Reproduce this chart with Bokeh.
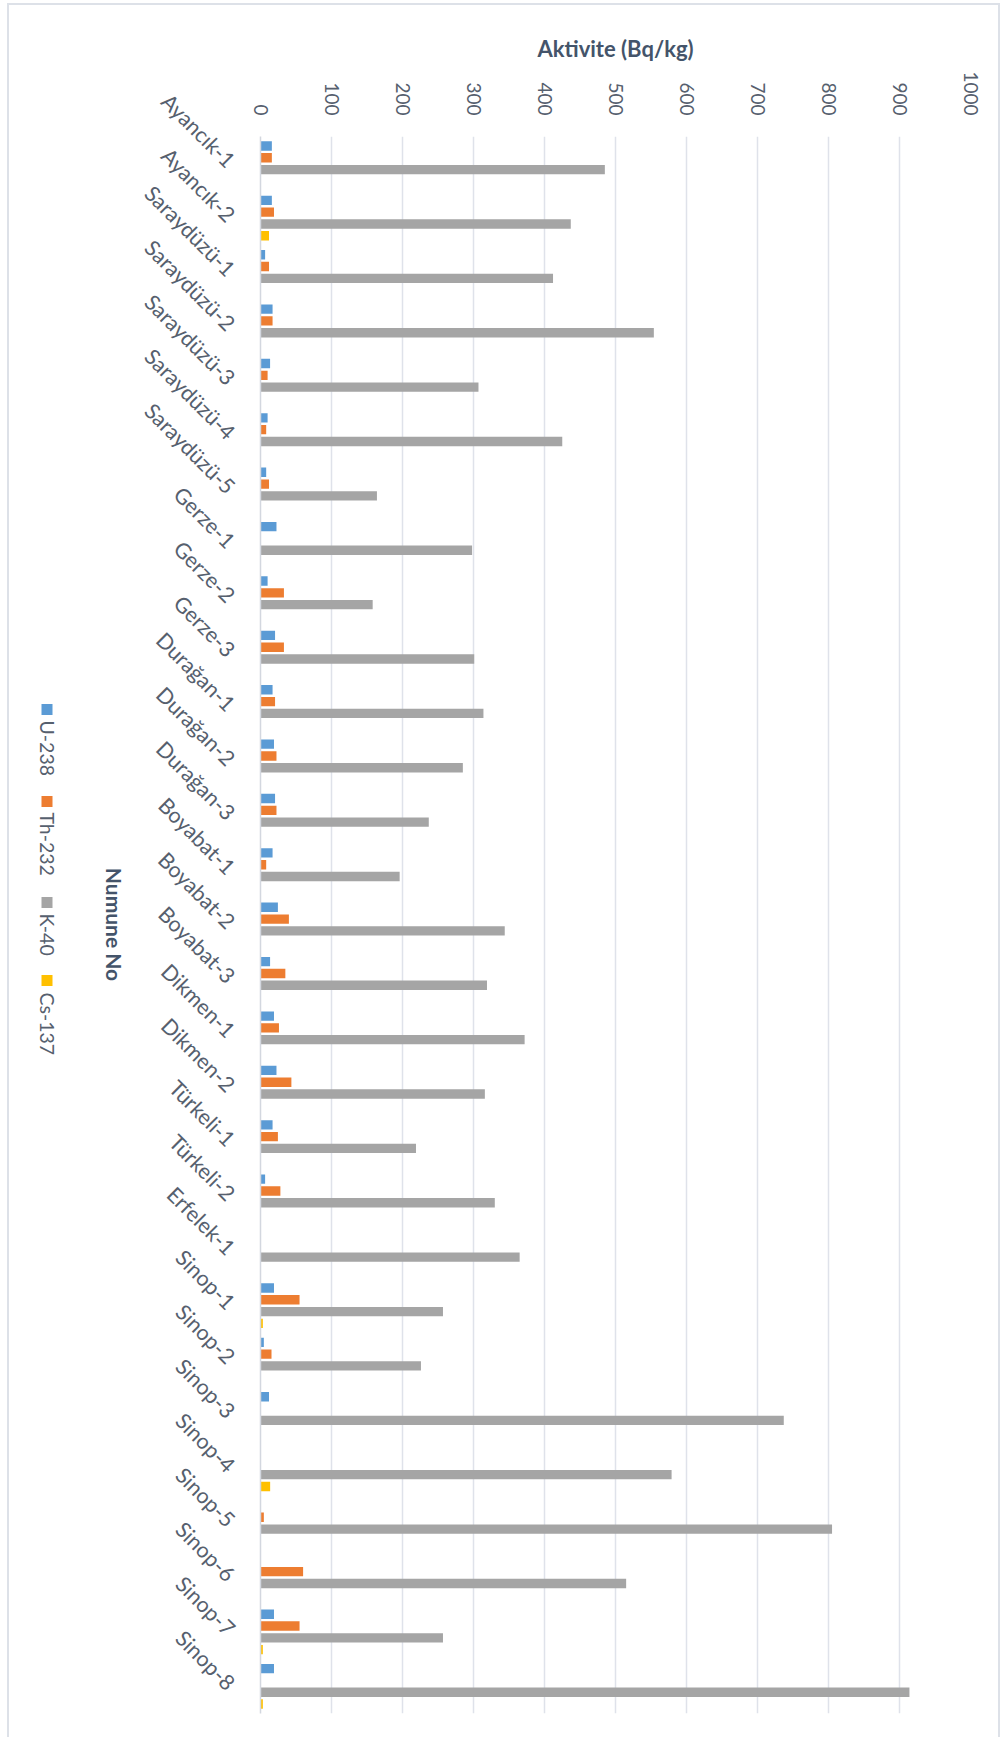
import math
from bokeh.plotting import figure
from bokeh.models import ColumnDataSource, FactorRange, Range1d, FixedTicker
from bokeh.transform import dodge
from bokeh.layouts import row
from bokeh.embed import file_html
from bokeh.resources import INLINE
from bokeh.core.properties import value

NaN = float("nan")

samples = ["Ayancık-1", "Ayancık-2", "Saraydüzü-1", "Saraydüzü-2", "Saraydüzü-3",
           "Saraydüzü-4", "Saraydüzü-5", "Gerze-1", "Gerze-2", "Gerze-3",
           "Durağan-1", "Durağan-2", "Durağan-3", "Boyabat-1", "Boyabat-2",
           "Boyabat-3", "Dikmen-1", "Dikmen-2", "Türkeli-1", "Türkeli-2",
           "Erfelek-1", "Sinop-1", "Sinop-2", "Sinop-3", "Sinop-4",
           "Sinop-5", "Sinop-6", "Sinop-7", "Sinop-8"]

u238 = [16, 16, 6.5, 17, 13.5, 10, 8, 22.5, 10, 20.5,
        17, 19, 20.5, 17, 24.5, 13.5, 19, 22.5, 17, 6.5,
        NaN, 19, 4.7, 12, NaN, NaN, NaN, 19, 19]
th232 = [16, 19, 12, 17, 10, 8, 12, NaN, 33, 33,
         20.5, 22.5, 22.5, 8, 40, 35, 26, 43.5, 24.5, 28,
         NaN, 55, 15.5, NaN, NaN, 4.7, 60, 55, NaN]
k40 = [485, 437, 412, 554, 307, 425, 164, 298, 158, 301,
       314, 285, 237, 196, 344, 319, 372, 316, 219, 330,
       365, 257, 226, 737, 579, 805, 515, 257, 914]
cs137 = [NaN, 12, NaN, NaN, NaN, NaN, NaN, NaN, NaN, NaN,
         NaN, NaN, NaN, NaN, NaN, NaN, NaN, NaN, NaN, NaN,
         NaN, 3.3, NaN, NaN, 13.6, NaN, NaN, 3.3, 3.3]

series_names = ["U-238", "Th-232", "K-40", "Cs-137"]
series_cols = ["u", "th", "k", "cs"]
series_colors = ["#5b9bd5", "#ed7d31", "#a5a5a5", "#ffc000"]
x_ticks = list(range(0, 1001, 100))

FONT = "Lato"
TXT = "#56606e"
TITLE = "#44546a"
BORDER = "2px solid #dde1e8"

# page geometry (layout starts at x=9, y=5 after margin + border)
H = 1732
FRAME_TOP, FRAME_BOTTOM = 136, 1713
W_LEFT = 118
W_MAIN = 871

src = ColumnDataSource(dict(sample=samples, u=u238, th=th232, k=k40, cs=cs137))

p = figure(y_range=FactorRange(factors=samples[::-1]), x_range=Range1d(0, 1000),
           width=W_MAIN, height=H, x_axis_location="above",
           output_backend="svg", toolbar_location=None,
           min_border_left=133, min_border_right=28, min_border_top=131, min_border_bottom=24)
p.outline_line_color = None
p.background_fill_color = "white"

p.xaxis.ticker = FixedTicker(ticks=x_ticks)
p.xaxis.major_label_orientation = -math.pi / 2
p.xaxis.major_label_standoff = 15
p.xaxis.major_label_text_font = FONT
p.xaxis.major_label_text_font_size = "19px"
p.xaxis.major_label_text_color = TXT
p.xaxis.axis_label = "Aktivite (Bq/kg)"
p.xaxis.axis_label_standoff = 6
p.xaxis.axis_label_text_font = FONT
p.xaxis.axis_label_text_font_style = "bold"
p.xaxis.axis_label_text_font_size = "22px"
p.xaxis.axis_label_text_color = TITLE
p.xaxis.axis_line_color = None
p.xaxis.major_tick_line_color = None
p.xaxis.minor_tick_line_color = None

p.yaxis.major_label_orientation = -math.pi / 4
p.yaxis.major_label_standoff = 23
p.yaxis.major_label_text_font = FONT
p.yaxis.major_label_text_font_size = "21.5px"
p.yaxis.major_label_text_color = TXT
p.yaxis.axis_line_color = "#d3d7df"
p.yaxis.axis_line_width = 1.5
p.yaxis.major_tick_line_color = None
p.yaxis.minor_tick_line_color = None

p.ygrid.grid_line_color = None
p.xgrid.grid_line_color = "#dfe2ea"
p.xgrid.grid_line_width = 1.5

pitch = 0.217
offsets = [1.5 * pitch, 0.5 * pitch, -0.5 * pitch, -1.5 * pitch]
for col, name, color, off in zip(series_cols, series_names, series_colors, offsets):
    p.hbar(y=dodge("sample", off, range=p.y_range), left=0, right=col, height=0.172,
           source=src, fill_color=color, line_color=None)

# left panel: rotated legend and category axis title
FH = FRAME_BOTTOM - FRAME_TOP
lf = figure(width=W_LEFT, height=H, x_range=Range1d(0, W_LEFT), y_range=Range1d(0, FH),
            output_backend="svg", toolbar_location=None,
            min_border_left=0, min_border_right=0, min_border_top=131, min_border_bottom=24,
            x_axis_location=None, y_axis_location=None)
lf.grid.visible = False
lf.outline_line_color = None


def X(px):
    return px - 9


def Y(py):
    return FRAME_BOTTOM - py


sq_y = [709, 801, 902, 980]
txt_y = [720, 812, 913, 992]
lf.rect(x=[X(46.5)] * 4, y=[Y(v) for v in sq_y], width=11, height=11,
        fill_color=series_colors, line_color=None)
lf.text(x=[X(47)] * 4, y=[Y(v) for v in txt_y], text=series_names, angle=-math.pi / 2,
        text_align="left", text_baseline="middle", text_font=value(FONT),
        text_font_size="19.5px", text_color=TXT)
lf.text(x=[X(114)], y=[Y(924)], text=["Numune No"], angle=-math.pi / 2,
        text_align="center", text_baseline="middle", text_font=value(FONT),
        text_font_style="bold", text_font_size="21px", text_color=TITLE)

layout = row(lf, p, margin=(3, 0, 0, 7),
             styles={"border-left": BORDER, "border-top": BORDER, "border-right": BORDER})
open("out.html", "w").write(file_html(layout, INLINE))
